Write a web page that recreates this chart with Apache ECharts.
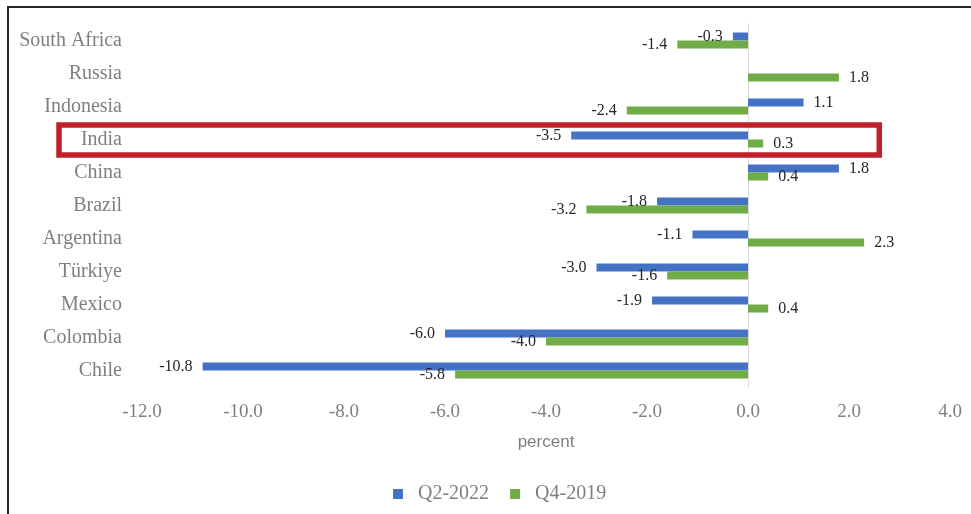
<!DOCTYPE html>
<html>
<head>
<meta charset="utf-8">
<script src="https://cdn.jsdelivr.net/npm/echarts@6/dist/echarts.min.js"></script>
<style>
  html, body { margin: 0; padding: 0; background: #fff; }
  #chart { width: 971px; height: 514px; }
</style>
</head>
<body>
<div id="chart"></div>
<script>
const categories = ['Chile', 'Colombia', 'Mexico', 'Türkiye', 'Argentina', 'Brazil', 'China', 'India', 'Indonesia', 'Russia', 'South Africa'];
const q2_2022 = [-10.8, -6.0, -1.9, -3.0, -1.1, -1.8, 1.8, -3.5, 1.1, null, -0.3];
const q4_2019 = [-5.8, -4.0, 0.4, -1.6, 2.3, -3.2, 0.4, 0.3, -2.4, 1.8, -1.4];
const seriesNames = ['Q2-2022', 'Q4-2019'];
const xMin = -12, xMax = 4, xInterval = 2;
const highlightCategory = 'India';
const highlightRightValue = 2.6;

const SERIF = '"Liberation Serif", "Times New Roman", serif';

function toItems(arr) {
  return arr.map(v => v === null ? null : {
    value: v,
    label: { position: v < 0 ? 'left' : 'right' }
  });
}

const chart = echarts.init(document.getElementById('chart'), null, { renderer: 'canvas' });

const labelCfg = {
  show: true,
  distance: 10,
  formatter: p => Number(p.value).toFixed(1),
  fontFamily: SERIF,
  fontSize: 16,
  color: '#262626'
};

chart.setOption({
  animation: false,
  backgroundColor: '#fff',
  grid: { left: 142, right: 21, top: 24, bottom: 127, containLabel: false },
  legend: {
    data: seriesNames,
    left: 388,
    top: 479,
    icon: 'rect',
    itemWidth: 10,
    itemHeight: 10,
    itemGap: 21,
    textStyle: { fontFamily: SERIF, fontSize: 20, color: '#7f7f7f', padding: [0, 0, 0, 10] }
  },
  xAxis: {
    type: 'value',
    min: xMin,
    max: xMax,
    interval: xInterval,
    name: 'percent',
    nameLocation: 'middle',
    nameGap: 47,
    nameTextStyle: { fontFamily: '"Liberation Sans", Arial, sans-serif', fontSize: 17, color: '#7f7f7f' },
    axisLine: { show: false },
    axisTick: { show: false },
    splitLine: { show: false },
    axisLabel: {
      margin: 16,
      fontFamily: SERIF,
      fontSize: 19,
      color: '#7f7f7f',
      formatter: v => v.toFixed(1)
    }
  },
  yAxis: {
    type: 'category',
    data: categories,
    axisLine: { show: true, onZero: true, lineStyle: { color: '#d9d9d9', width: 1 } },
    axisTick: { show: false },
    splitLine: { show: false },
    axisLabel: {
      margin: 20,
      fontFamily: SERIF,
      fontSize: 20,
      color: '#7f7f7f',
      padding: [7, 0, 0, 0]
    }
  },
  series: [
    {
      name: seriesNames[0],
      type: 'bar',
      data: toItems(q2_2022),
      barWidth: 8,
      barGap: '0%',
      itemStyle: { color: '#4472C4' },
      label: labelCfg
    },
    {
      name: seriesNames[1],
      type: 'bar',
      data: toItems(q4_2019),
      barWidth: 8,
      barGap: '0%',
      itemStyle: { color: '#70AD47' },
      label: labelCfg
    }
  ]
});

const yc = chart.convertToPixel({ yAxisIndex: 0 }, highlightCategory);
const xr = chart.convertToPixel({ xAxisIndex: 0 }, highlightRightValue);
chart.setOption({
  graphic: [
    {
      type: 'rect',
      shape: { x: 8, y: 7, width: 980, height: 530 },
      style: { fill: 'none', stroke: '#262626', lineWidth: 2 },
      silent: true
    },
    {
      type: 'rect',
      shape: { x: 59, y: yc - 14.5, width: xr - 59, height: 30 },
      style: { fill: 'none', stroke: '#C0202A', lineWidth: 5.5 },
      silent: true,
      z: 100
    }
  ]
});
</script>
</body>
</html>
